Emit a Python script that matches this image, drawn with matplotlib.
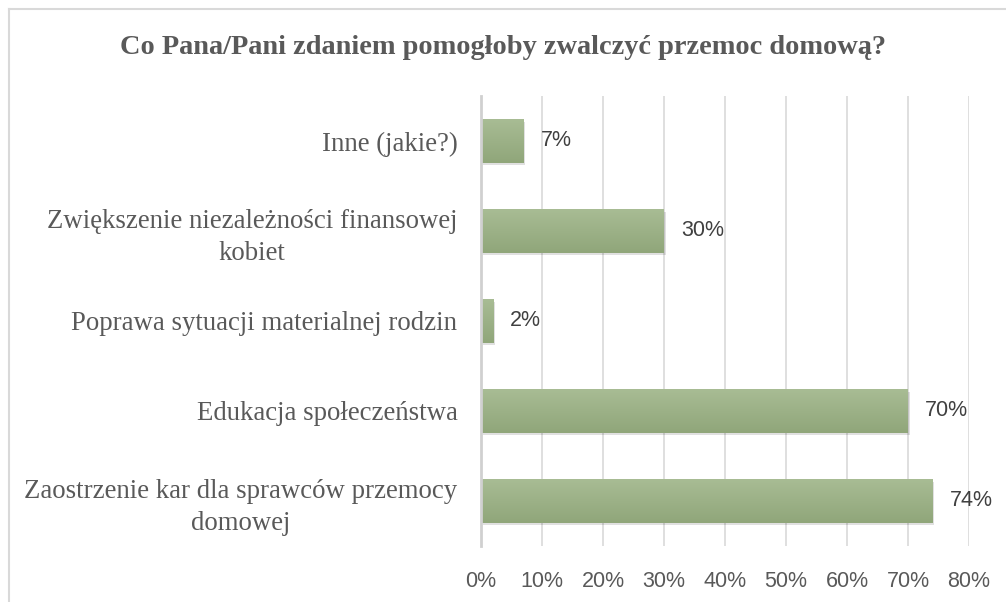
import numpy as np
import matplotlib
matplotlib.use("Agg")
import matplotlib.pyplot as plt
from matplotlib.colors import LinearSegmentedColormap
from matplotlib.lines import Line2D

# Data (bottom to top as drawn)
categories = [
    "Zaostrzenie kar dla sprawców przemocy\ndomowej",
    "Edukacja społeczeństwa",
    "Poprawa sytuacji materialnej rodzin",
    "Zwiększenie niezależności finansowej\nkobiet",
    "Inne (jakie?)",
]
values = [74, 70, 2, 30, 7]
xticks = [0, 10, 20, 30, 40, 50, 60, 70, 80]
title = "Co Pana/Pani zdaniem pomogłoby zwalczyć przemoc domową?"

text_gray = "#595959"
bar_h = 0.48

fig = plt.figure(figsize=(10.06, 6.02), dpi=100)
ax = fig.add_axes([481 / 1006, 1 - 546 / 602, (969 - 481) / 1006, (546 - 96) / 602])

y = np.arange(len(categories))

# shadow behind bars
ax.barh(y - 0.025, values, height=bar_h, left=0.25, color="#000000", alpha=0.12, zorder=2)

# bars with a soft vertical gradient
grad = LinearSegmentedColormap.from_list("g", ["#90A67A", "#A8BC94"])
bars = ax.barh(y, values, height=bar_h, color="#9FB48A", zorder=3)
for b in bars:
    x0, y0 = b.get_x(), b.get_y()
    w, h = b.get_width(), b.get_height()
    ax.imshow(np.linspace(0, 1, 50).reshape(-1, 1), cmap=grad, aspect="auto",
              extent=[x0, x0 + w, y0, y0 + h], origin="lower", zorder=3.5)

for yi, v in zip(y, values):
    ax.text(v + 2.8, yi, f"{v}%", va="center", ha="left", fontsize=15.5,
            color="#404040", family="Liberation Sans", zorder=5)

ax.set_xlim(0, 80)
ax.set_ylim(-0.5, len(categories) - 0.5)
ax.set_xticks(xticks)
ax.set_xticklabels([f"{t}%" for t in xticks], fontsize=15.5, color=text_gray,
                   family="Liberation Sans")
ax.set_yticks(y)
ax.set_yticklabels(categories, fontsize=19.3, color=text_gray, family="Liberation Serif")
for lab in ax.get_yticklabels():
    lab.set_multialignment("center")
    lab.set_linespacing(1.35)
ax.tick_params(axis="both", length=0)
ax.tick_params(axis="x", pad=18)
ax.tick_params(axis="y", pad=17)

ax.grid(axis="x", color="#D9D9D9", linewidth=1.2, zorder=0)
ax.set_axisbelow(True)
for s in ["top", "right", "bottom"]:
    ax.spines[s].set_visible(False)
ax.spines["left"].set_color("#D0D0D0")
ax.spines["left"].set_linewidth(2)
ax.spines["left"].set_zorder(4)

fig.text(503 / 1006, 1 - 48 / 602, title, ha="center", va="center", fontsize=20.4,
         fontweight="bold", color=text_gray, family="Liberation Serif")

# outer chart frame (cropped at right and bottom)
fig.add_artist(Line2D([9 / 1006, 9 / 1006], [0, 1 - 9 / 602], transform=fig.transFigure,
                      color="#D9D9D9", linewidth=1.5))
fig.add_artist(Line2D([9 / 1006, 1], [1 - 9 / 602, 1 - 9 / 602], transform=fig.transFigure,
                      color="#D9D9D9", linewidth=1.5))

fig.savefig("out.png", dpi=100, facecolor="white")
